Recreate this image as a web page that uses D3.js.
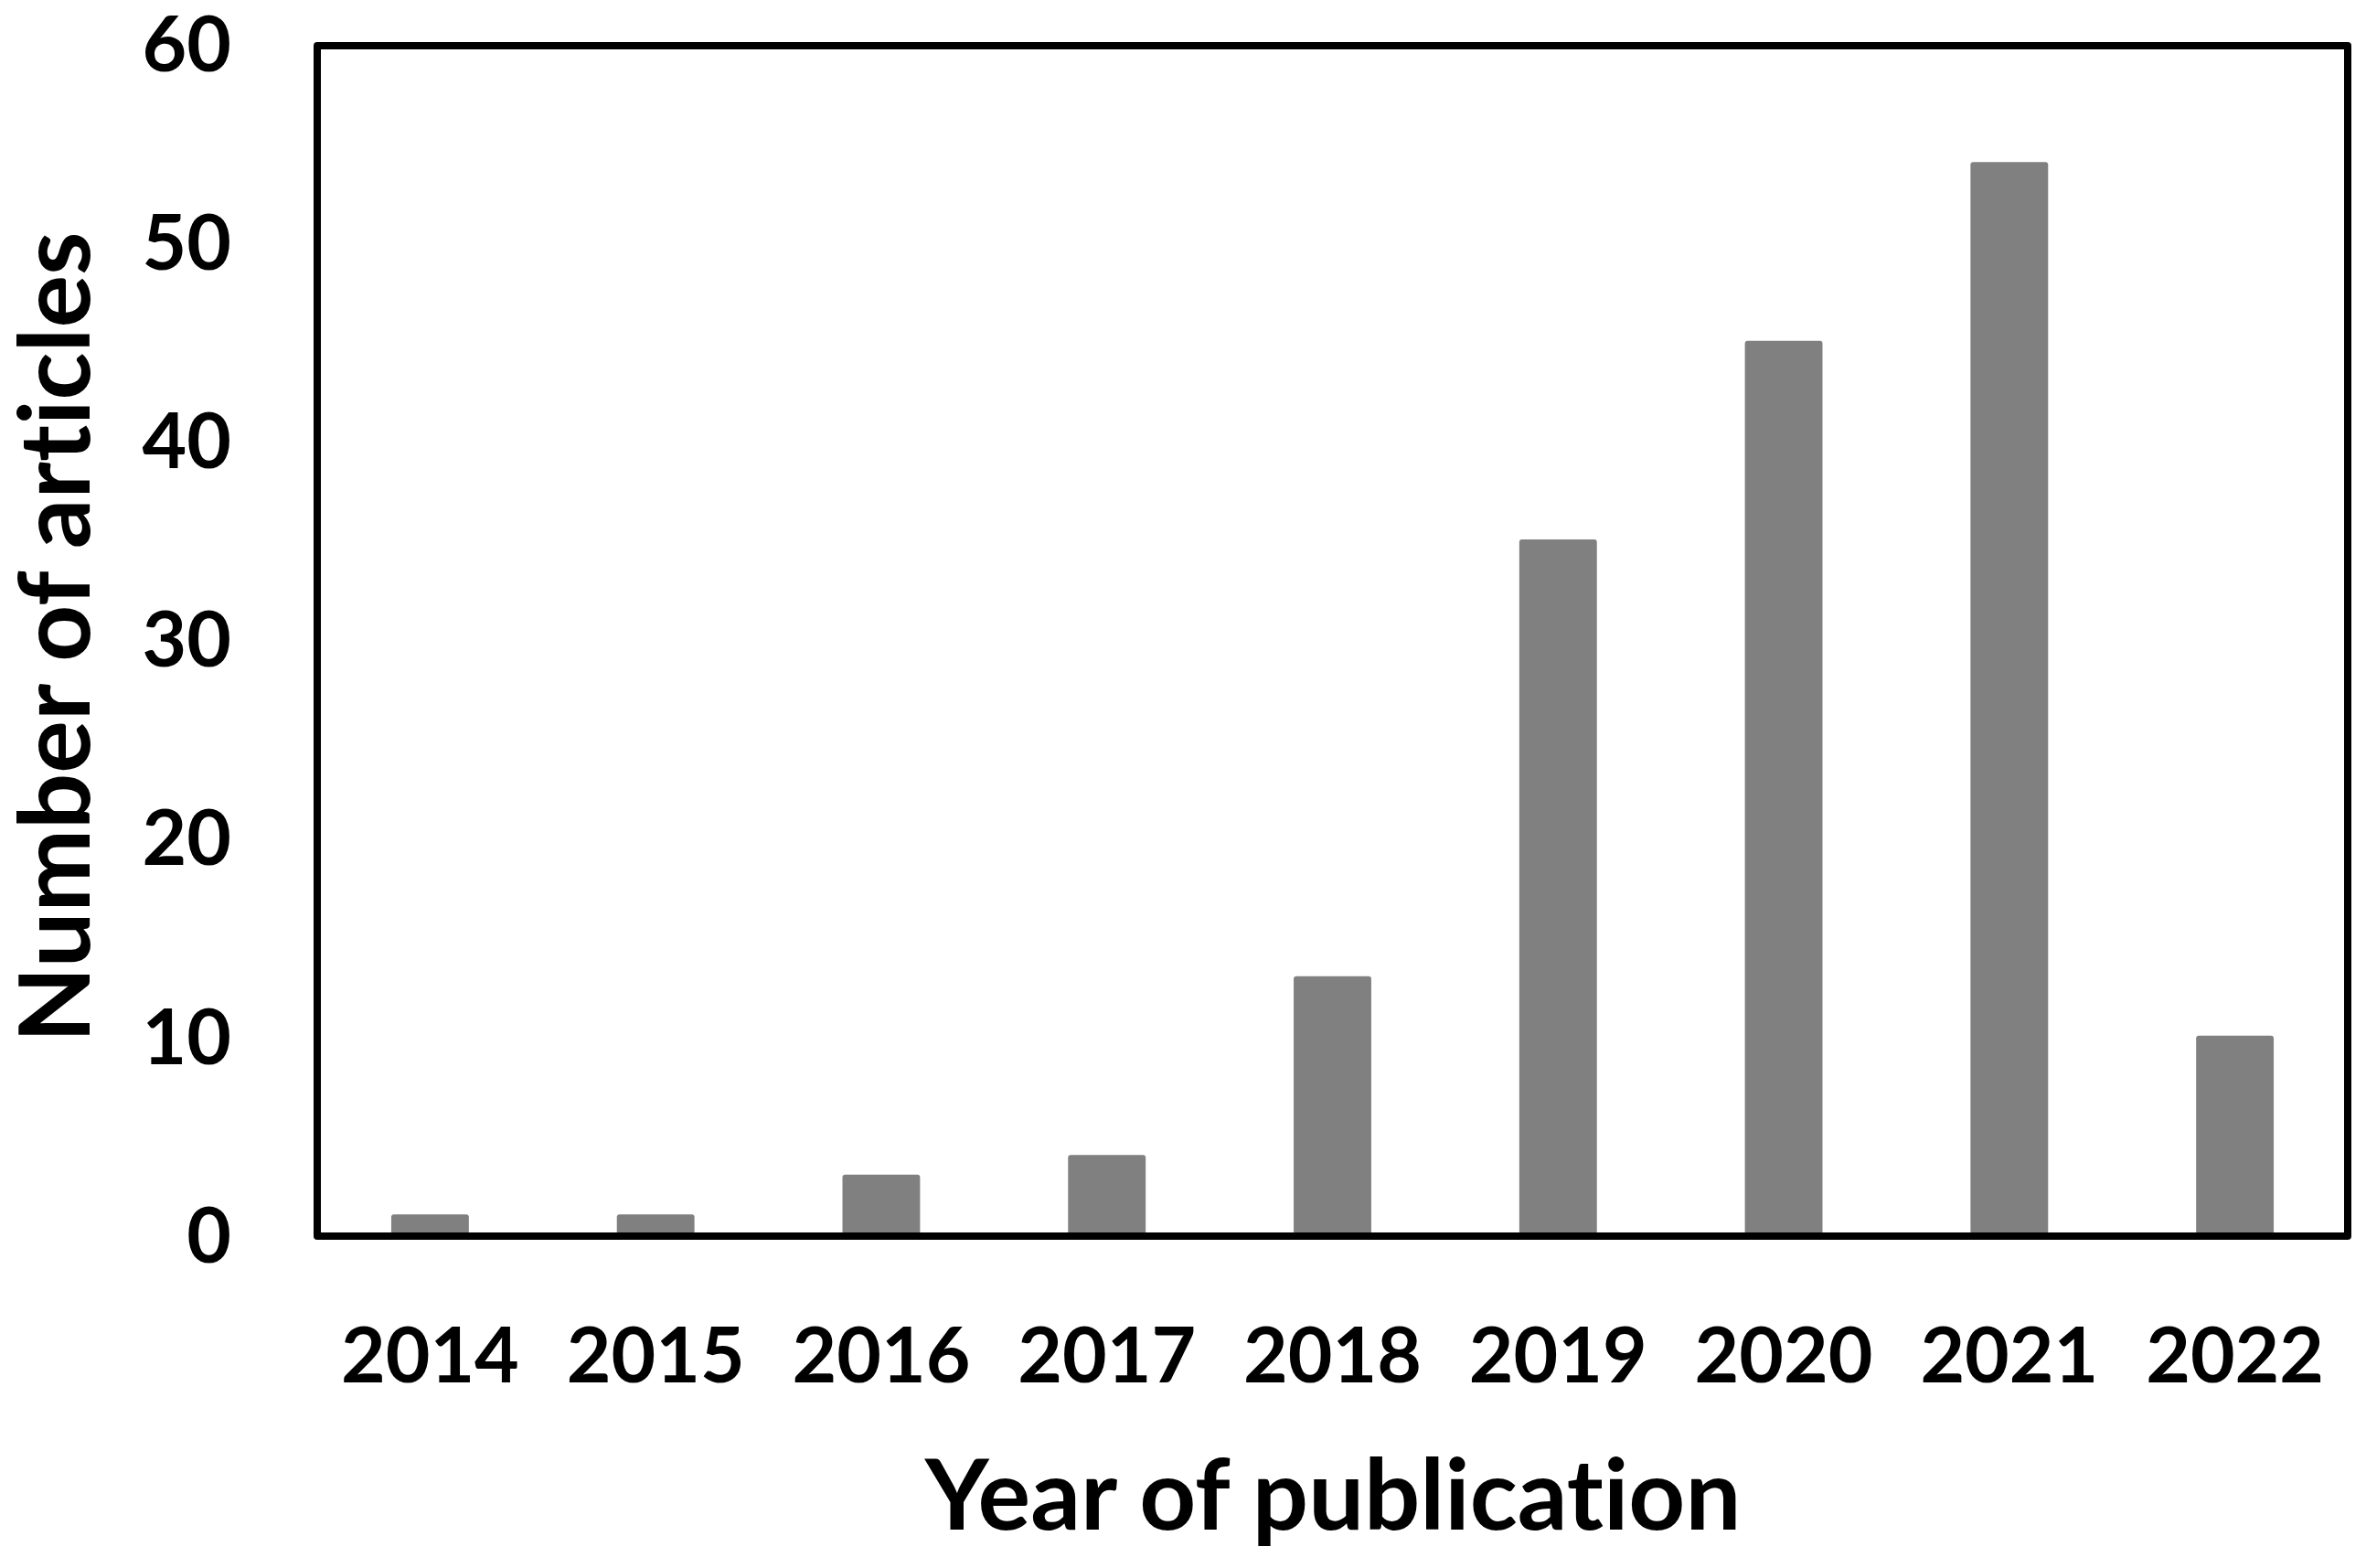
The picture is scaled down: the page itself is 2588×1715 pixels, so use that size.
<!DOCTYPE html>
<html>
<head>
<meta charset="utf-8">
<script src="https://cdn.jsdelivr.net/npm/d3@7"></script>
<style>
  body { margin: 0; background: #fff; }
  text { font-family: Lato, "Open Sans", sans-serif; font-weight: bold; fill: #000; font-variant-ligatures: none; }
</style>
</head>
<body>
<div id="chart"></div>
<script>
// data
var years = ['2014', '2015', '2016', '2017', '2018', '2019', '2020', '2021', '2022'];
var articles = [1, 1, 3, 4, 13, 35, 45, 54, 10];
var yTicks = [0, 10, 20, 30, 40, 50, 60];

var width = 2588, height = 1715;
var plotLeft = 347, plotRight = 2568, plotTop = 50, plotBottom = 1352;

var svg = d3.select('#chart')
    .append('svg')
    .attr('width', width)
    .attr('height', height);

// x: one band per year, bar centred in its slot
var x = d3.scaleBand()
    .domain(years)
    .range([plotLeft, plotRight])
    .paddingInner(0.656)
    .paddingOuter(0.328);

// bars stand on the inner edge of the bottom line
var y = d3.scaleLinear()
    .domain([0, 60])
    .range([plotBottom - 2, plotTop - 3]);

// bars
svg.append('g')
    .selectAll('rect')
    .data(years)
    .enter().append('rect')
    .attr('x', function (d) { return x(d); })
    .attr('y', function (d, i) { return y(articles[i]); })
    .attr('width', x.bandwidth())
    .attr('height', function (d, i) { return y(0) - y(articles[i]); })
    .attr('rx', 3)
    .attr('fill', '#808080');

// frame round the plot
svg.append('rect')
    .attr('x', plotLeft)
    .attr('y', plotTop)
    .attr('width', plotRight - plotLeft)
    .attr('height', plotBottom - plotTop)
    .attr('fill', 'none')
    .attr('stroke', '#000')
    .attr('stroke-width', 8)
    .attr('stroke-linejoin', 'round');

// y tick labels
var yAxis = svg.append('g')
    .attr('transform', 'translate(' + plotLeft + ',0)')
    .call(d3.axisLeft(y).tickValues(yTicks).tickSize(0).tickPadding(94));
yAxis.select('.domain').remove();
yAxis.selectAll('text')
    .attr('font-size', 84)
    .attr('font-family', 'Lato, sans-serif')
    .attr('dy', '0.36em');

// x tick labels
var xAxis = svg.append('g')
    .attr('transform', 'translate(0,' + plotBottom + ')')
    .call(d3.axisBottom(x).tickSize(0).tickPadding(100));
xAxis.select('.domain').remove();
xAxis.selectAll('text')
    .attr('font-size', 84)
    .attr('font-family', 'Lato, sans-serif')
    .attr('dy', '0.71em');

// axis titles
svg.append('text')
    .attr('x', 1458)
    .attr('y', 1673)
    .attr('text-anchor', 'middle')
    .attr('font-size', 108)
    .text('Year of publication');

svg.append('text')
    .attr('transform', 'translate(98,697) rotate(-90)')
    .attr('text-anchor', 'middle')
    .attr('font-size', 108)
    .text('Number of articles');
</script>
</body>
</html>
